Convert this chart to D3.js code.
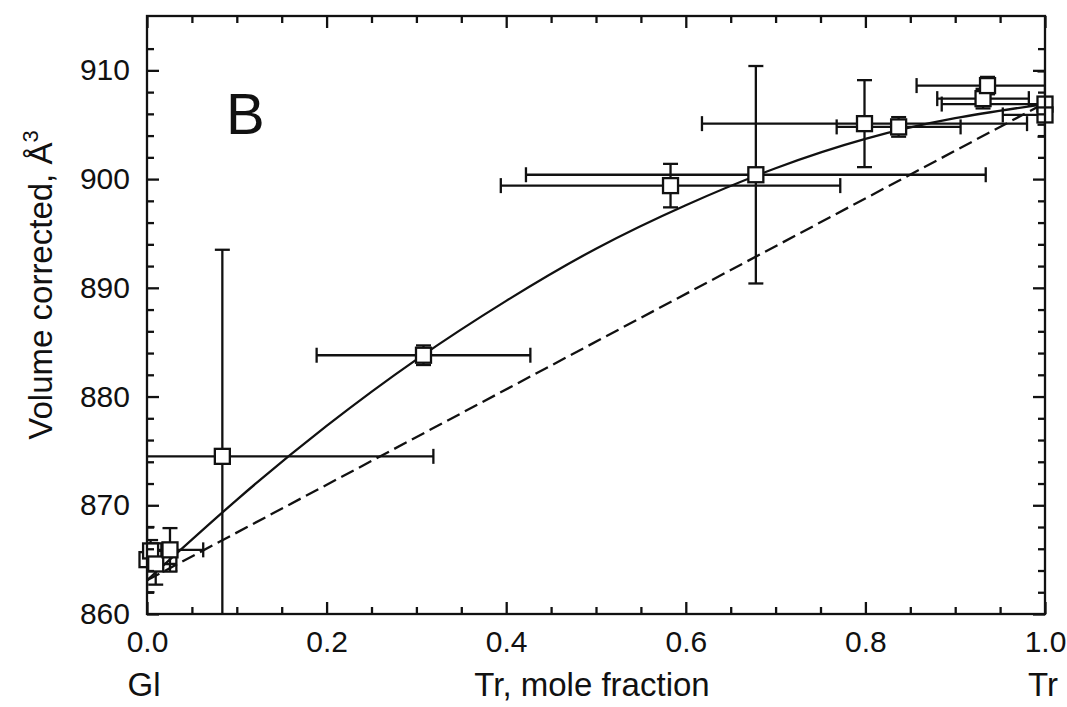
<!DOCTYPE html>
<html>
<head>
<meta charset="utf-8">
<script src="https://cdn.jsdelivr.net/npm/d3@7"></script>
<style>
  html, body { margin: 0; padding: 0; background: #fff; }
  svg { display: block; font-family: "Liberation Sans", Arial, sans-serif; }
</style>
</head>
<body>
<svg id="chart" width="1067" height="707"></svg>
<script>
// ---- data ----
const pointX    = [0.000, 0.004, 0.0097, 0.0256, 0.0839, 0.3079, 0.583, 0.678, 0.799, 0.837, 0.931, 0.936, 1.000, 1.000];
const pointY    = [865.0, 865.8, 864.6, 865.9, 874.5, 883.8, 899.4, 900.4, 905.1, 904.8, 907.4, 908.6, 906.9, 905.9];
const pointXErr = [0.005, 0.012, 0.023, 0.037, 0.235, 0.119, 0.189, 0.256, 0.181, 0.069, 0.051, 0.079, 0.115, 0.047];
const pointYErr = [3.0, 1.0, 1.9, 2.0, 19.0, 0.9, 2.0, 10.0, 4.0, 0.9, 0.9, 0.8, 3.0, 0.9];

// fitted curve (solid)
const curveX = [0.0, 0.1, 0.2, 0.3, 0.4, 0.5, 0.6, 0.7, 0.8, 0.9, 1.0];
const curveY = [863.1, 870.5, 877.3, 883.4, 888.8, 893.6, 897.6, 901.0, 903.7, 905.6, 906.9];

// ideal mixing line (dashed)
const idealX = [0.0, 1.0];
const idealY = [863.1, 907.0];

const xMajorTicks = [0.0, 0.2, 0.4, 0.6, 0.8, 1.0];
const xTickLabels = ["0.0", "0.2", "0.4", "0.6", "0.8", "1.0"];
const yMajorTicks = [860, 870, 880, 890, 900, 910];
const yTickLabels = ["860", "870", "880", "890", "900", "910"];
const xMinorTicks = [0.05,0.1,0.15,0.25,0.3,0.35,0.45,0.5,0.55,0.65,0.7,0.75,0.85,0.9,0.95];
const yMinorTicks = [862,864,866,868,872,874,876,878,882,884,886,888,892,894,896,898,902,904,906,908,912];

// ---- layout ----
const svg = d3.select("#chart");
const L = 147, R = 1045, T = 16, B = 614;
const x = d3.scaleLinear().domain([0, 1]).range([L, R]);
const y = d3.scaleLinear().domain([860, 915]).range([B, T]);
const SW = 2.3;

svg.append("defs").append("clipPath").attr("id", "plotclip")
  .append("rect").attr("x", L).attr("y", T).attr("width", R - L).attr("height", B - T);

const plot = svg.append("g").attr("clip-path", "url(#plotclip)");

// curves
const line = d3.line().x(d => x(d[0])).y(d => y(d[1]));
plot.append("path")
  .datum(idealX.map((v, i) => [v, idealY[i]]))
  .attr("d", line)
  .attr("fill", "none").attr("stroke", "#111").attr("stroke-width", SW)
  .attr("stroke-dasharray", "14,6");
plot.append("path")
  .datum(curveX.map((v, i) => [v, curveY[i]]))
  .attr("d", line.curve(d3.curveNatural))
  .attr("fill", "none").attr("stroke", "#111").attr("stroke-width", SW);

// error bars
const pts = pointX.map((v, i) => ({x: v, y: pointY[i], ex: pointXErr[i], ey: pointYErr[i]}));
const cap = 7.5;
const eb = plot.append("g").attr("stroke", "#111").attr("stroke-width", SW).attr("fill", "none");
pts.forEach(p => {
  const cx = x(p.x), cy = y(p.y);
  const x0 = x(p.x - p.ex), x1 = x(p.x + p.ex);
  const y0 = y(p.y - p.ey), y1 = y(p.y + p.ey);
  eb.append("line").attr("x1", x0).attr("x2", x1).attr("y1", cy).attr("y2", cy);
  eb.append("line").attr("x1", x0).attr("x2", x0).attr("y1", cy - cap).attr("y2", cy + cap);
  eb.append("line").attr("x1", x1).attr("x2", x1).attr("y1", cy - cap).attr("y2", cy + cap);
  eb.append("line").attr("x1", cx).attr("x2", cx).attr("y1", y0).attr("y2", y1);
  eb.append("line").attr("x1", cx - cap).attr("x2", cx + cap).attr("y1", y0).attr("y2", y0);
  eb.append("line").attr("x1", cx - cap).attr("x2", cx + cap).attr("y1", y1).attr("y2", y1);
});

// square markers
const MS = 15;
svg.append("g").selectAll("rect").data(pts).join("rect")
  .attr("x", d => x(d.x) - MS / 2).attr("y", d => y(d.y) - MS / 2)
  .attr("width", MS).attr("height", MS)
  .attr("fill", "#fff").attr("stroke", "#111").attr("stroke-width", SW);

// ---- axes (ticks inward on all four sides) ----
function styleAxis(g) {
  g.select(".domain").remove();
  g.selectAll(".tick line").attr("stroke", "#111").attr("stroke-width", SW);
  g.selectAll(".tick text").attr("fill", "#111").style("font-size", "30px")
    .style("font-family", "'Liberation Sans', Arial, sans-serif");
}
// bottom
svg.append("g").attr("transform", `translate(0,${B})`)
  .call(d3.axisBottom(x).tickValues(xMajorTicks).tickSize(-12).tickPadding(38)
        .tickFormat((d, i) => xTickLabels[i]))
  .call(styleAxis)
  .call(g => g.selectAll(".tick text").attr("dy", "0"));
svg.append("g").attr("transform", `translate(0,${B})`)
  .call(d3.axisBottom(x).tickValues(xMinorTicks).tickSize(-7).tickFormat(""))
  .call(styleAxis);
// top
svg.append("g").attr("transform", `translate(0,${T})`)
  .call(d3.axisTop(x).tickValues(xMajorTicks).tickSize(-12).tickFormat(""))
  .call(styleAxis);
svg.append("g").attr("transform", `translate(0,${T})`)
  .call(d3.axisTop(x).tickValues(xMinorTicks).tickSize(-7).tickFormat(""))
  .call(styleAxis);
// left
svg.append("g").attr("transform", `translate(${L},0)`)
  .call(d3.axisLeft(y).tickValues(yMajorTicks).tickSize(-12).tickPadding(17)
        .tickFormat((d, i) => yTickLabels[i]))
  .call(styleAxis);
svg.append("g").attr("transform", `translate(${L},0)`)
  .call(d3.axisLeft(y).tickValues(yMinorTicks).tickSize(-7).tickFormat(""))
  .call(styleAxis);
// right
svg.append("g").attr("transform", `translate(${R},0)`)
  .call(d3.axisRight(y).tickValues(yMajorTicks).tickSize(-12).tickFormat(""))
  .call(styleAxis);
svg.append("g").attr("transform", `translate(${R},0)`)
  .call(d3.axisRight(y).tickValues(yMinorTicks).tickSize(-7).tickFormat(""))
  .call(styleAxis);

// frame
svg.append("rect").attr("x", L).attr("y", T).attr("width", R - L).attr("height", B - T)
  .attr("fill", "none").attr("stroke", "#111").attr("stroke-width", SW);

// ---- texts ----
const txt = svg.append("g").attr("fill", "#111");
txt.append("text").attr("x", 226).attr("y", 134).style("font-size", "58px").text("B");
txt.append("text").attr("x", 592).attr("y", 696).attr("text-anchor", "middle")
  .style("font-size", "33px").text("Tr, mole fraction");
txt.append("text").attr("x", 144).attr("y", 696).attr("text-anchor", "middle")
  .style("font-size", "33px").text("Gl");
txt.append("text").attr("x", 1043).attr("y", 696).attr("text-anchor", "middle")
  .style("font-size", "33px").text("Tr");
const yl = txt.append("text").attr("transform", "translate(52,285) rotate(-90)")
  .attr("text-anchor", "middle").style("font-size", "33px");
yl.append("tspan").text("Volume corrected, Å");
yl.append("tspan").attr("dy", "-14").style("font-size", "22px").text("3");
</script>
</body>
</html>
